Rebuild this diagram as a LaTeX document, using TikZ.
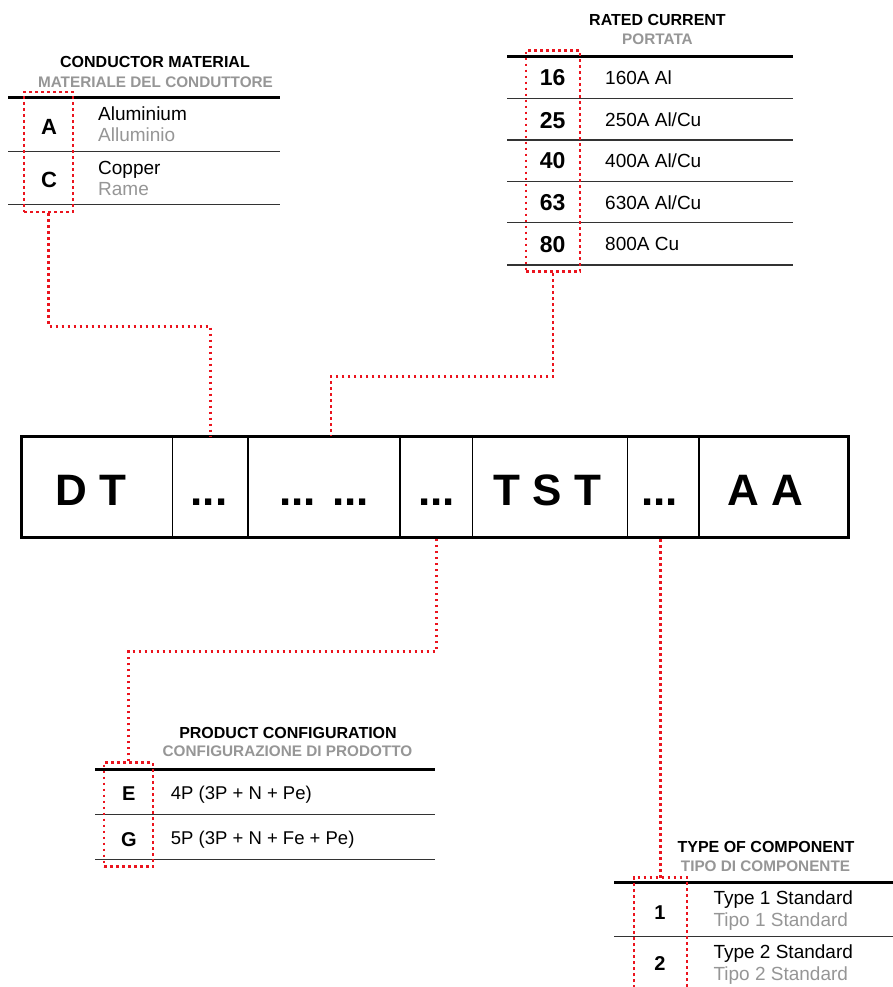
\documentclass[tikz,border=0pt]{standalone}
\usepackage{fontspec}
\setmainfont{Liberation Sans}
\definecolor{codered}{RGB}{235,20,30}
\definecolor{greytxt}{RGB}{150,150,150}
\newcommand\myfs[1]{\fontsize{#1}{#1}\selectfont}
\begin{document}
\begin{tikzpicture}[x=1pt,y=-1pt,
  ttl/.style={font=\bfseries\myfs{16}, inner sep=0pt, anchor=base},
  subttl/.style={font=\bfseries\myfs{15.3}, text=greytxt, inner sep=0pt, anchor=base},
  code/.style={font=\bfseries\myfs{22}, inner sep=0pt, anchor=base},
  desc/.style={font=\myfs{19}, inner sep=0pt, anchor=base west},
  descg/.style={desc, text=greytxt},
  thickrule/.style={line width=3pt},
  rowrule/.style={line width=1.2pt, black!80},
  reddots/.style={draw=codered, line width=2.6pt, dash pattern=on 2.6pt off 3.4pt},
  cell/.style={draw, line width=1.2pt, minimum height=100pt, inner sep=0pt},
  big/.style={font=\bfseries\myfs{44}, inner sep=0pt, anchor=base}]
\clip (0,0) rectangle (893,987);
\fill[white] (0,0) rectangle (893,987);

% ---------- main code box ----------
\node[cell, minimum width=150.5pt] (c1) at (97.25,487) {};
\node[cell, minimum width=75.5pt]  (c2) at (210.25,487) {};
\node[cell, minimum width=152pt]   (c3) at (324,487) {};
\node[cell, minimum width=72.5pt]  (c4) at (436.25,487) {};
\node[cell, minimum width=155pt]   (c5) at (550,487) {};
\node[cell, minimum width=71.5pt]  (c6) at (663.25,487) {};
\node[cell, minimum width=149pt]   (c7) at (773.5,487) {};
\draw[line width=3pt] (c1.north west) rectangle (c7.south east);
\node[big] (t1) at (91,505) {D T};
\node[big] (t2) at (209,505) {...};
\node[big] (t3) at (324,505) {... ...};
\node[big] (t4) at (436.5,505) {...};
\node[big] (t5) at (547.5,505) {T S T};
\node[big] (t6) at (659.5,505) {...};
\node[big] (t7) at (765,505) {A A};

% ---------- conductor material ----------
\node[ttl] (cmt) at (155,68) {CONDUCTOR MATERIAL};
\node[subttl] (cms) at (155.5,88) {MATERIALE DEL CONDUTTORE};
\draw[thickrule] (8,98) -- (280,98);
\draw[rowrule] (8,151.7) -- (280,151.7);
\draw[rowrule] (8,204.3) -- (280,204.3);
\node[code] (cmA) at (49,135) {A};
\node[code] (cmC) at (49,187.5) {C};
\node[desc] (cm1) at (98,121) {Aluminium};
\node[descg] (cm1g) at (98,141.7) {Alluminio};
\node[desc] (cm2) at (98,174.5) {Copper};
\node[descg] (cm2g) at (98,195.7) {Rame};
\node[reddots, minimum width=49pt, minimum height=120pt, inner sep=0pt] (cmbox) at (48.5,152) {};

% ---------- rated current ----------
\node[ttl] (rct) at (657.5,26) {RATED CURRENT};
\node[subttl] (rcs) at (657.5,44.3) {PORTATA};
\draw[thickrule] (507,56.7) -- (793,56.7);
\draw[rowrule] (507,98.3) -- (793,98.3);
\draw[rowrule] (507,140) -- (793,140);
\draw[rowrule] (507,181.7) -- (793,181.7);
\draw[rowrule] (507,222.7) -- (793,222.7);
\draw[rowrule] (507,265) -- (793,265);
\node[code, font=\bfseries\myfs{23}] (r16) at (552.7,86) {16};
\node[code, font=\bfseries\myfs{23}] (r25) at (552.7,128.3) {25};
\node[code, font=\bfseries\myfs{23}] (r40) at (552.7,168.8) {40};
\node[code, font=\bfseries\myfs{23}] (r63) at (552.7,210.7) {63};
\node[code, font=\bfseries\myfs{23}] (r80) at (552.7,252.3) {80};
\node[desc] (rd1) at (605,85) {160A Al};
\node[desc] (rd2) at (605,126.7) {250A Al/Cu};
\node[desc] (rd3) at (605,167.7) {400A Al/Cu};
\node[desc] (rd4) at (605,209.3) {630A Al/Cu};
\node[desc] (rd5) at (605,250.7) {800A Cu};
\node[reddots, minimum width=54pt, minimum height=221pt, inner sep=0pt] (rcbox) at (553,161.2) {};

% ---------- product configuration ----------
\node[ttl] (pct) at (288,738.3) {PRODUCT CONFIGURATION};
\node[subttl] (pcs) at (287.5,756.7) {CONFIGURAZIONE DI PRODOTTO};
\draw[thickrule] (95,769.3) -- (435,769.3);
\draw[rowrule] (95,814.3) -- (435,814.3);
\draw[rowrule] (95,859.3) -- (435,859.3);
\node[code, font=\bfseries\myfs{20}] (pcE) at (128.8,800.7) {E};
\node[code, font=\bfseries\myfs{20}] (pcG) at (128.8,846) {G};
\node[desc, font=\myfs{18.5}] (pd1) at (170.7,799.3) {4P (3P + N + Pe)};
\node[desc, font=\myfs{18.5}] (pd2) at (170.7,844.3) {5P (3P + N + Fe + Pe)};
\node[reddots, minimum width=49pt, minimum height=104pt, inner sep=0pt] (pcbox) at (128.5,814.7) {};

% ---------- type of component ----------
\node[ttl] (tct) at (766,852.7) {TYPE OF COMPONENT};
\node[subttl] (tcs) at (765.5,871.7) {TIPO DI COMPONENTE};
\draw[thickrule] (614,882.7) -- (893,882.7);
\draw[rowrule] (614,936.7) -- (893,936.7);
\node[code, font=\bfseries\myfs{20}] (tc1) at (660,919.3) {1};
\node[code, font=\bfseries\myfs{20}] (tc2) at (660,970) {2};
\node[desc] (td1) at (713.3,904) {Type 1 Standard};
\node[descg] (td1g) at (713.3,926.7) {Tipo 1 Standard};
\node[desc] (td2) at (713.3,958) {Type 2 Standard};
\node[descg] (td2g) at (713.3,980) {Tipo 2 Standard};
\coordinate (tctop) at (660.5,877.7);
\draw[reddots] (634,1000) -- (634,877.7) -- (687,877.7) -- (687,1000);

% ---------- connectors ----------
\draw[reddots] (cmbox.south) -- ++(0,113) -| (c2.north);
\draw[reddots] (rcbox.south) -- ++(0,103.3) -| ([xshift=7pt]c3.north);
\draw[reddots] (pcbox.north) -- ++(0,-110) -| (c4.south);
\draw[reddots] (tctop) -- (tctop |- c6.south);
\end{tikzpicture}
\end{document}
